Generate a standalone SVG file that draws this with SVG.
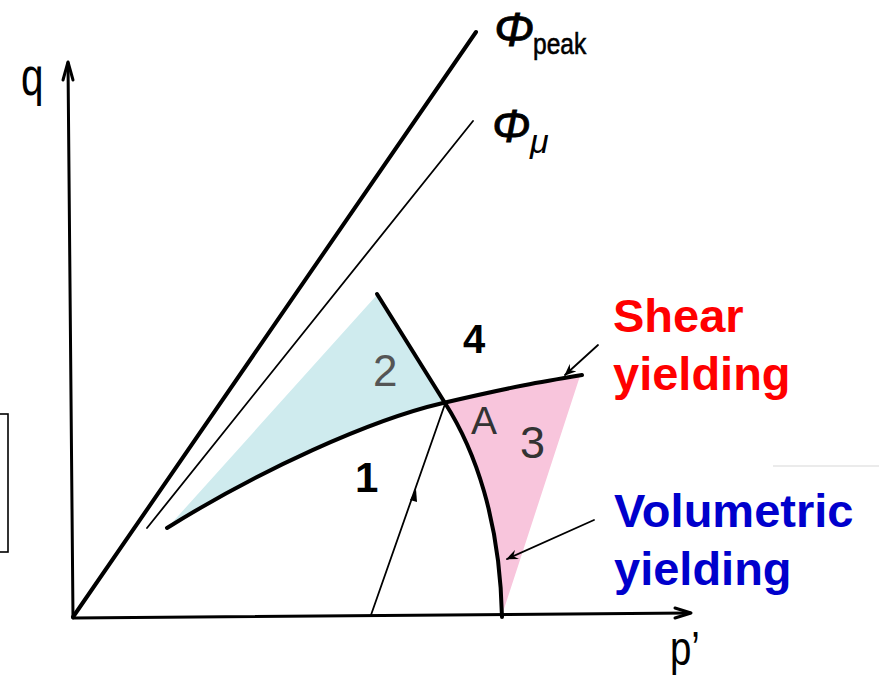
<svg xmlns="http://www.w3.org/2000/svg" width="879" height="682" viewBox="0 0 879 682">
<style>
.ax{fill:none;stroke:#000;stroke-width:3;stroke-linecap:round;stroke-linejoin:round}
.thick{fill:none;stroke:#000;stroke-width:4;stroke-linecap:round}
.thin{fill:none;stroke:#000;stroke-width:1.8;stroke-linecap:round}
.hand{font-family:"Liberation Sans","DejaVu Sans",sans-serif}
.big{font-family:"Liberation Sans",Arial,sans-serif;font-weight:bold;font-size:47px}
</style>
<defs>
<marker id="ah" viewBox="0 0 12 10" refX="11" refY="5" markerWidth="12" markerHeight="10" markerUnits="userSpaceOnUse" orient="auto">
<path d="M0,0 L12,5 L0,10 L4,5 Z" fill="#000"/>
</marker>
</defs>
<rect width="879" height="682" fill="#fff"/>
<g id="frame">
<rect x="-10" y="414" width="18" height="138" fill="none" stroke="#000" stroke-width="1.6"/>
<line x1="773" y1="466" x2="879" y2="466" stroke="#e4e4e4" stroke-width="1.5"/>
</g>
<g id="regions">
<path id="region2" d="M170 525 L376 296 L443 403 C370 420 260 470 170 525 Z" fill="#cfebee"/>
<path id="region3" d="M443 403 C516 386 540 382 580 376 L503 612 C500 520 475 450 443 403 Z" fill="#f8c5dc"/>
</g>
<g id="axes">
<path class="ax" d="M73 618 L68 63"/>
<path class="ax" stroke-width="2.2" d="M63 80 L68 62 L73 80"/>
<path class="ax" d="M73 618 L690 613"/>
<path class="ax" stroke-width="2.2" d="M675 608 L691 613 L675 618"/>
</g>
<g id="lines">
<line id="phipeak-line" class="thick" x1="73" y1="617" x2="476" y2="32"/>
<line id="phimu-line" class="thin" x1="147" y1="528" x2="473" y2="121"/>
<path id="shear-curve" class="thick" d="M167 528 C260 470 370 420 443 403 S540 382 582 375"/>
<path id="region-boundary" class="thick" d="M377 294 L445 403"/>
<path id="volumetric-curve" class="thick" stroke-width="3.5" d="M445 403 C475 450 500 520 502 617"/>
</g>
<g id="connectors">
<line class="thin" stroke-width="1.5" x1="371" y1="615" x2="445" y2="404"/>
<path d="M410 500 L416 489 L417 502 Z" fill="#000"/>
<line class="thin" stroke-width="1.8" x1="598" y1="345" x2="565" y2="375" marker-end="url(#ah)"/>
<line class="thin" stroke-width="1.6" x1="594" y1="520" x2="507" y2="559" marker-end="url(#ah)"/>
</g>
<g id="labels">
<text class="hand" x="0" y="0" font-size="54" transform="translate(21 95) scale(0.75 1)">q</text>
<text class="hand" x="0" y="0" font-size="48" transform="translate(670 665) scale(0.8 1)">p’</text>
<text class="hand" x="494" y="46" font-size="48" font-style="italic" stroke="#000" stroke-width="0.8">Φ</text>
<text class="hand" x="0" y="0" font-size="30" stroke="#000" stroke-width="0.6" transform="translate(533 54) scale(0.82 1)">peak</text>
<text class="hand" x="492" y="142" font-size="46" font-style="italic" stroke="#000" stroke-width="0.8">Φ</text>
<text class="hand" x="530" y="153" font-size="34" font-style="italic">μ</text>
<text class="hand" x="373" y="386" font-size="44" fill="#555">2</text>
<text class="hand" x="463" y="353" font-size="40" font-weight="bold">4</text>
<text class="hand" x="355" y="492" font-size="42" font-weight="bold">1</text>
<text class="hand" x="471" y="434" font-size="39" fill="#333">A</text>
<text class="hand" x="520" y="458" font-size="45" fill="#333">3</text>
</g>
<g id="shear-label">
<text class="big" x="613" y="332" fill="#ff0000">Shear</text>
<text class="big" x="613" y="390" fill="#ff0000">yielding</text>
</g>
<g id="volumetric-label">
<text class="big" x="614" y="527" fill="#0000cc">Volumetric</text>
<text class="big" x="614" y="585" fill="#0000cc">yielding</text>
</g>
</svg>
